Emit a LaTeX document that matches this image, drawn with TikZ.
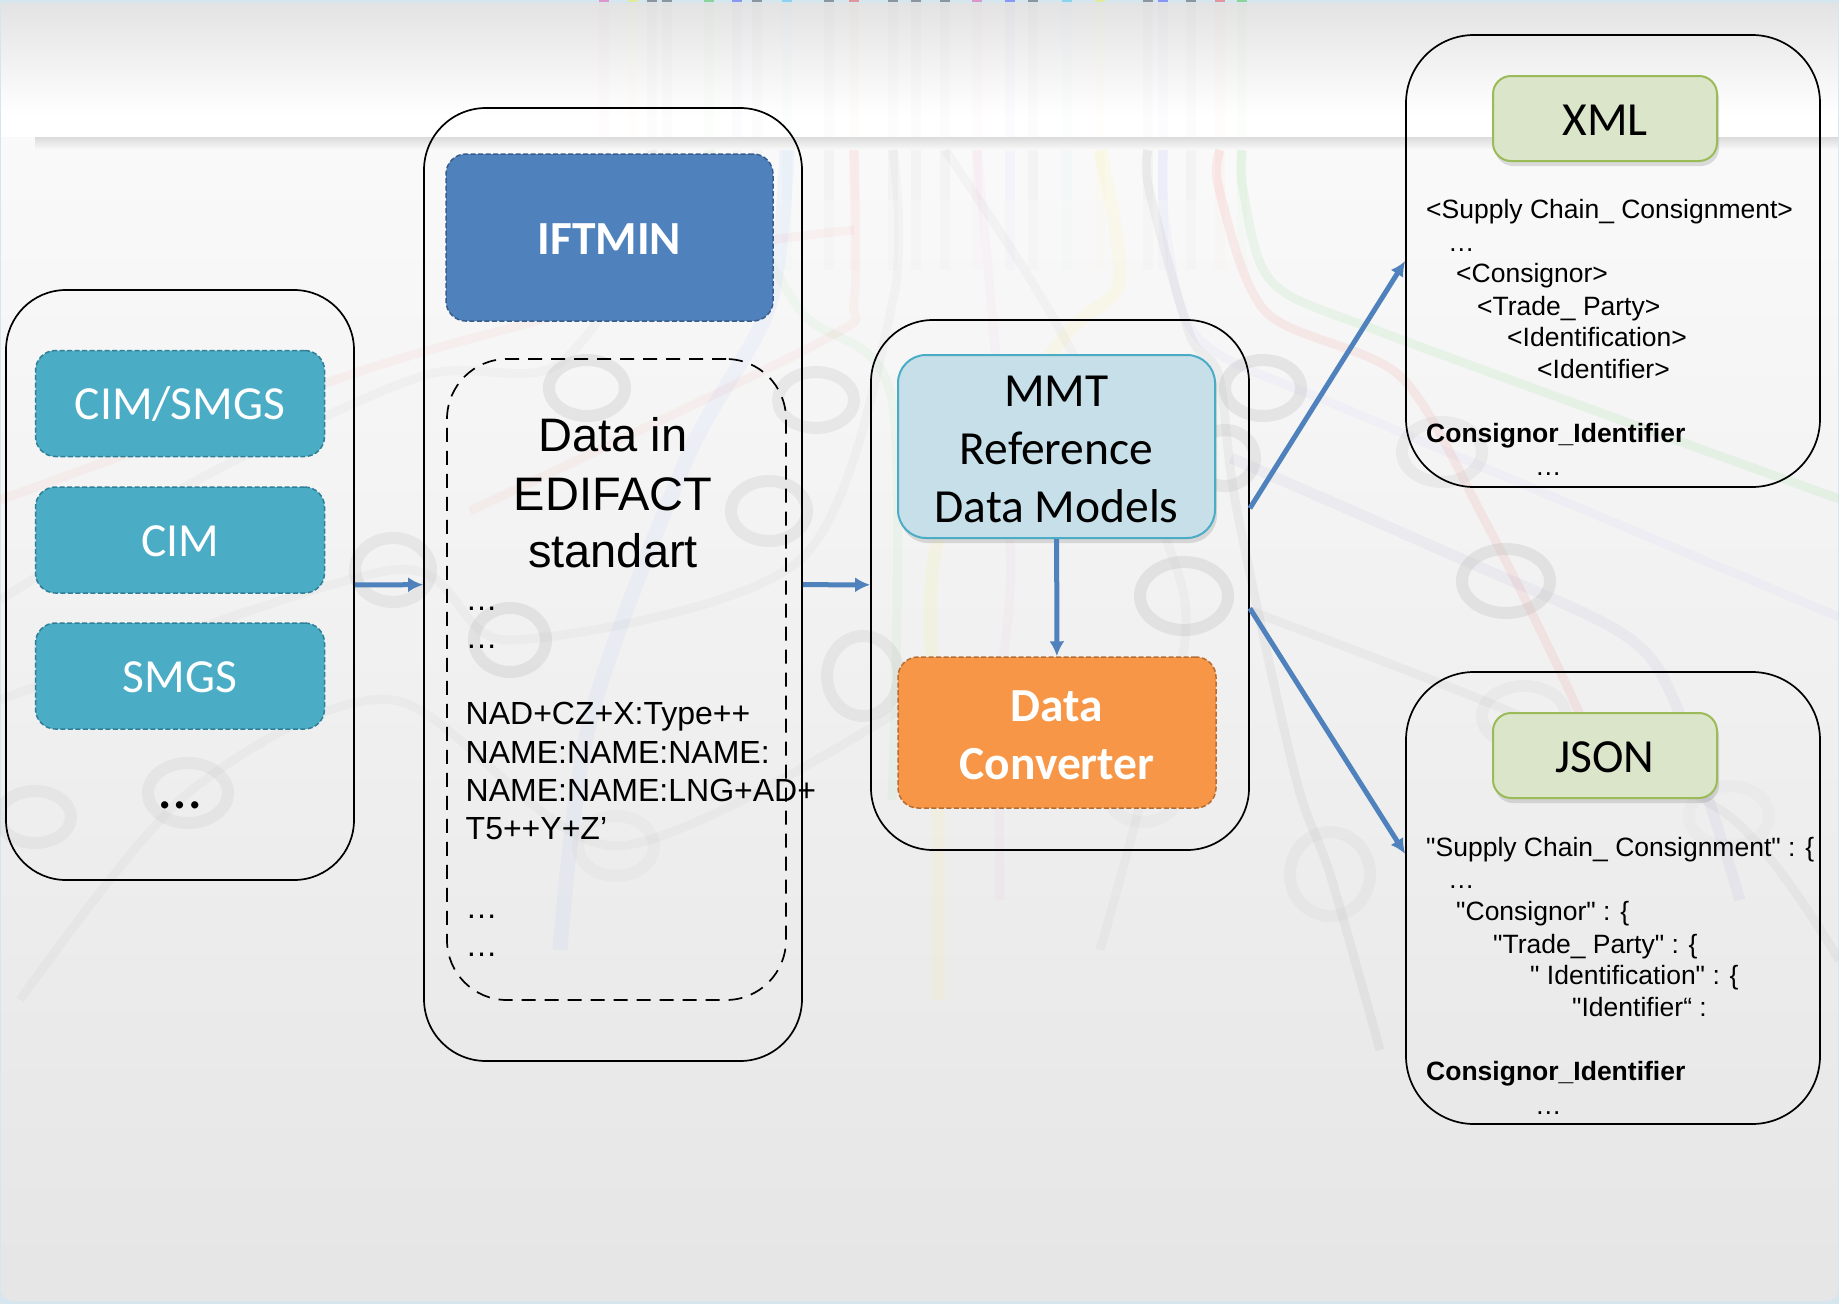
\documentclass[tikz,border=0pt]{standalone}
\usepackage{fontspec}
\setmainfont{Liberation Sans}[Ligatures=TeXOff]
\newfontfamily\calibrifont{Carlito}
\usetikzlibrary{arrows.meta,positioning,shadows}
\definecolor{teal1}{HTML}{4BACC6}
\definecolor{teal2}{HTML}{2F7F97}
\definecolor{blue1}{HTML}{4F81BD}
\definecolor{blue2}{HTML}{385D8A}
\definecolor{sky1}{HTML}{C7DFE8}
\definecolor{orange1}{HTML}{F79646}
\definecolor{orange2}{HTML}{B66D31}
\definecolor{green1}{HTML}{DBE5C9}
\definecolor{green2}{HTML}{9BBB59}
\definecolor{edge1}{HTML}{D6E6EF}
\def\bigfont{\fontsize{47.5}{58}\selectfont}

\begin{document}
\begin{tikzpicture}[x=1pt,y=-1pt]
\tikzstyle{metro}=[line width=9pt,line join=round];
\tikzstyle{ring}=[draw=black!30,line width=12pt];
\tikzstyle{panel}=[draw=black,line width=1.7pt,rectangle,inner sep=0pt];
\tikzstyle{tile}=[rectangle,rounded corners=20pt,inner sep=0pt,line width=1.5pt,dash pattern=on 5pt off 2.5pt,
  text=white,align=center,font=\calibrifont\bigfont];
\tikzstyle{source tile}=[tile,fill=teal1,draw=teal2,minimum width=289pt,minimum height=106pt,text height=38pt,text depth=6pt];
\tikzstyle{format tile}=[rectangle,rounded corners=18pt,inner sep=0pt,fill=green1,draw=green2,line width=2pt,
  minimum width=224pt,minimum height=85pt,font=\calibrifont\bigfont,text height=34pt,text depth=0pt,
  drop shadow={shadow xshift=2pt,shadow yshift=-5pt,opacity=.25}];
\tikzstyle{listing}=[anchor=base west,inner sep=0pt,font=\fontsize{26.5}{32}\selectfont];
\tikzstyle{edi}=[anchor=base west,inner sep=0pt,font=\fontsize{32}{38}\selectfont];
\tikzstyle{flow}=[-{Latex[length=15pt,width=15pt]},draw=blue1,line width=5pt];

\useasboundingbox (0,0) rectangle (1839,1304);
\clip (0,0) rectangle (1839,1304);

% Draw the slide background
\fill[edge1] (0,0) rectangle (1839,1304);
\shade[top color=black!2,bottom color=black!10,rounded corners=12pt] (1,120) rectangle (1838,1301);
\shade[top color=black!11,bottom color=white] (1,3) rectangle (1838,115);
\fill[white] (1,115) rectangle (1838,137);
\shade[top color=black!14,bottom color=black!2] (35,137) rectangle (1838,150);

% Vertical ends of the metro lines
\foreach \x/\col in {604/magenta,633/yellow,652/black,667/black,709/green!70!black,737/blue,757/black,787/cyan,
829/black,854/red,893/black,916/black,945/black,977/magenta,1010/blue,1033/black,1067/cyan,1100/yellow,
1148/black,1163/blue,1191/black,1220/red,1242/green!70!black} {
\fill[\col,opacity=.35] (\x-5,0) rectangle (\x+5,2);
\fill[\col,opacity=.012] (\x-5,3) rectangle (\x+5,137);
\fill[\col,opacity=.025] (\x-5,150) rectangle (\x+5,200);
\fill[\col,opacity=.012] (\x-5,200) rectangle (\x+5,270);
}

% Draw the metro lines
\draw[metro,green!70!black,opacity=.06] plot[smooth] coordinates {(1242,150) (1243,189) (1272,282) (1389,335) (1839,499)};
\draw[metro,red,opacity=.06] plot[smooth] coordinates {(1220,150) (1219,189) (1266,312) (1400,376) (1483,517) (1559,669) (1600,760)};
\draw[metro,blue!60!black,opacity=.035,line width=11pt] plot[smooth] coordinates {(1231,458) (1459,558) (1623,634) (1676,705) (1740,900)};
\draw[metro,blue,opacity=.025] plot[smooth] coordinates {(1163,150) (1166,230) (1201,341) (1365,417) (1839,617)};
\draw[metro,black,opacity=.04] plot[smooth] coordinates {(1148,150) (1149,189) (1190,335) (1219,376) (1236,505) (1295,775) (1330,874) (1380,1050)};
\draw[metro,black,opacity=.03] plot[smooth] coordinates {(1248,610) (1506,710) (1729,816) (1839,960)};
\draw[metro,yellow,opacity=.06,line width=13pt] plot[smooth] coordinates {(1100,150) (1119,282) (1061,341) (938,540) (938,780) (938,1000)};
\draw[metro,blue!70!cyan,opacity=.035,line width=15pt] plot[smooth] coordinates {(787,150) (769,306) (687,458) (590,720) (560,950)};
\draw[metro,red,opacity=.035] plot[smooth] coordinates {(0,500) (364,370) (587,306) (720,250) (854,230)};
\draw[metro,red,opacity=.035] plot[smooth] coordinates {(470,511) (822,341) (854,300) (854,150)};
\draw[metro,black,opacity=.025] plot[smooth] coordinates {(0,600) (205,476) (422,376) (557,365) (652,230) (652,150)};
\draw[metro,black,opacity=.025] plot[smooth] coordinates {(0,700) (393,570) (510,640) (800,560) (893,300) (893,150)};
\draw[metro,black,opacity=.025] plot[smooth] coordinates {(20,1000) (188,793) (393,700) (616,846) (916,700)};
\draw[metro,green!70!black,opacity=.035] plot[smooth] coordinates {(709,150) (800,310) (892,400) (892,800)};
\draw[metro,magenta,opacity=.025] plot[smooth] coordinates {(977,150) (1010,540) (1000,700) (1000,900)};
\draw[metro,black,opacity=.025] plot[smooth] coordinates {(945,150) (1060,330) (1184,596) (1143,792) (1100,950)};

% Draw the metro stations
\foreach \x/\y/\rx/\ry/\o in {587/388/38/28/.25,816/400/38/28/.2,769/511/38/30/.2,393/570/38/32/.2,510/640/36/32/.25,
188/793/40/30/.16,35/817/36/26/.14,616/846/38/30/.08,863/676/36/40/.18,1263/388/38/28/.25,1225/458/30/28/.22,1184/596/44/34/.25,
1506/581/44/32/.25,1442/452/40/30/.16,1330/874/40/42/.1,1524/716/42/30/.1,1729/816/40/30/.06,1143/792/36/30/.08} {
\draw[ring,opacity=\o] (\x,\y) ellipse ({\rx} and {\ry});
}

% Draw the outer panels
\node[panel,rounded corners=60pt,minimum width=348pt,minimum height=590pt] (sources) at (180,585) {};
\node[panel,rounded corners=62pt,minimum width=378pt,minimum height=953pt] (edifact) at (613,584.5) {};
\node[panel,rounded corners=62pt,minimum width=378pt,minimum height=530pt] (models) at (1060,585) {};
\node[panel,rounded corners=68pt,minimum width=414pt,minimum height=452pt] (xmlbox) at (1613,261) {};
\node[panel,rounded corners=68pt,minimum width=414pt,minimum height=452pt] (jsonbox) at (1613,898) {};

% Draw the source messages
\foreach \name / \y / \txt in {1/403.5/{CIM/SMGS},2/540/CIM,3/676/SMGS}
\node[source tile] (S-\name) at (180,\y) {\txt};
\node[inner sep=0pt,anchor=base,font=\calibrifont\fontsize{60}{60}\selectfont] (more) at (180,808) {…};

% Draw the EDIFACT column
\node[tile,fill=blue1,draw=blue2,minimum width=327pt,minimum height=167pt,text height=34pt,text depth=0pt,font=\calibrifont\bfseries\bigfont] (iftmin) at (609.5,237.5) {IFTMIN};
\node[draw=black,line width=1.7pt,dash pattern=on 14pt off 9pt,rounded corners=60pt,inner sep=0pt,minimum width=339pt,minimum height=641pt] (data) at (616.5,679.5) {};
\foreach \name / \y / \txt in {1/451/Data in,2/510/EDIFACT,3/567/standart}
\node[inner sep=0pt,anchor=base,font=\fontsize{47}{57}\selectfont] (D-\name) at (613,\y) {\txt};
\foreach \name / \y / \txt in {1/610/…,2/648/…,3/724/NAD+CZ+X:Type++,4/763/NAME:NAME:NAME:,5/801/NAME:NAME:LNG+AD+,6/839/T5++Y+Z’,7/918/…,8/956/…}
\node[edi] (E-\name) at (465.5,\y) {\txt};

% Draw the reference models and the converter
\node[rectangle,rounded corners=28pt,inner sep=0pt,fill=sky1,draw=teal1,line width=2pt,minimum width=317pt,minimum height=183pt,text height=152pt,text depth=0pt,
  align=center,font=\calibrifont\bigfont,drop shadow={shadow xshift=2pt,shadow yshift=-5pt,opacity=.25}] (mmt) at (1056.5,446.5) {MMT\\Reference\\Data Models};
\node[tile,fill=orange1,draw=orange2,minimum width=318pt,minimum height=151pt,text height=94pt,text depth=0pt,font=\calibrifont\bfseries\bigfont] (conv) at (1057,732.5) {Data\\Converter};

% Draw the output formats
\node[format tile] (xml) at (1605,118.5) {XML};
\foreach \x / \y / \txt [count=\name] in {1426/218/<Supply Chain\_ Consignment>,1448/251/…,1456/282/<Consignor>,1477/315/<Trade\_ Party>,1507/346/<Identification>,1537/378/<Identifier>,1535/475/…}
\node[listing] (X-\name) at (\x,\y) {\txt};
\node[listing,font=\fontsize{26.5}{32}\selectfont\bfseries] (xmlval) at (1426,442) {Consignor\_Identifier};

\node[format tile] (json) at (1605,755.5) {JSON};
\foreach \x / \y / \txt [count=\name] in {1426/856/"Supply Chain\_ Consignment" : \{,1448/888/…,1456/920/"Consignor" : \{,1493/953/"Trade\_ Party" : \{,1530/984/" Identification" : \{,1572/1016/"Identifier“ :,1535/1114/…}
\node[listing] (J-\name) at (\x,\y) {\txt};
\node[listing,font=\fontsize{26.5}{32}\selectfont\bfseries] (jsonval) at (1426,1080) {Consignor\_Identifier};

% Connect the panels
\draw[flow] (sources) -- (edifact);
\draw[flow] (edifact) -- (models);
\draw[flow] (mmt) -- (conv);
\draw[flow] (models.22) -- (xmlbox.180);
\draw[flow] (models.-7) -- (jsonbox.168);
\end{tikzpicture}
\end{document}
